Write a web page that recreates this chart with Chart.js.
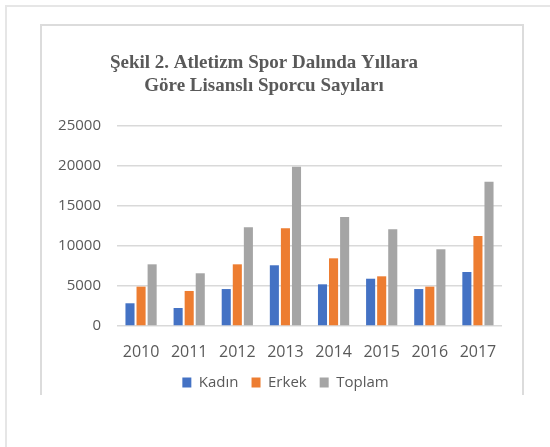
<!DOCTYPE html>
<html>
<head>
<meta charset="utf-8">
<script src="https://cdn.jsdelivr.net/npm/chart.js@4/dist/chart.umd.min.js"></script>
<style>
  html, body { margin: 0; padding: 0; background: #fff; }
  body { width: 550px; height: 447px; position: relative; overflow: hidden; }
  .outer { position: absolute; left: 5px; top: 5px; width: 600px; height: 500px;
           border-top: 2px solid #e6e6e6; border-left: 2px solid #e6e6e6; }
  .inner { position: absolute; left: 40px; top: 24px; width: 480px; height: 369px;
           border: 2px solid #dcdcdc; border-bottom: none; }
  #chart { position: absolute; left: 0; top: 0; }
</style>
</head>
<body>
<div class="outer"></div>
<div class="inner"></div>
<canvas id="chart" width="550" height="447"></canvas>
<script>
  // ---- data -----------------------------------------------------------------

  const TITLE_LINES = ['Şekil 2. Atletizm Spor Dalında Yıllara', 'Göre Lisanslı Sporcu Sayıları'];
  const YEARS   = ['2010', '2011', '2012', '2013', '2014', '2015', '2016', '2017'];
  const KADIN   = [2840, 2250, 4620, 7590, 5210, 5910, 4620, 6750];
  const ERKEK   = [4920, 4380, 7710, 12210, 8460, 6210, 4920, 11250];
  const TOPLAM  = [7710, 6590, 12340, 19920, 13630, 12090, 9590, 18040];
  const Y_TICKS = [0, 5000, 10000, 15000, 20000, 25000];

  const TEXT = '#595959';
  const GRID = '#d9d9d9';

  // two-line serif title, drawn on the canvas a bit left of the plot centre
  const titlePlugin = {
    id: 'twoLineTitle',
    afterDraw(chart) {
      const ctx = chart.ctx;
      ctx.save();
      ctx.fillStyle = TEXT;
      ctx.font = 'bold 19px "Liberation Serif", "Times New Roman", serif';
      ctx.textAlign = 'center';
      ctx.textBaseline = 'alphabetic';
      TITLE_LINES.forEach((line, i) => ctx.fillText(line, 264, 68 + i * 23));
      ctx.restore();
    }
  };

  // legend in the original sits a little right of the canvas-wide centre
  const legendShift = {
    id: 'legendShift',
    afterLayout(chart) {
      if (chart.legend) chart.legend.left += 22;
    }
  };

  const ds = (label, data, color) => ({
    label, data,
    backgroundColor: color,
    borderWidth: 0,
    categoryPercentage: 0.69,
    barPercentage: 0.82
  });

  new Chart(document.getElementById('chart'), {
    type: 'bar',
    data: {
      labels: YEARS,
      datasets: [
        ds('Kadın', KADIN, '#4472C4'),
        ds('Erkek', ERKEK, '#ED7D31'),
        ds('Toplam', TOPLAM, '#A5A5A5')
      ]
    },
    options: {
      responsive: false,
      animation: false,
      layout: { padding: { top: 126, left: 47, right: 48, bottom: 47 } },
      scales: {
        x: {
          afterFit: s => { s.height = 36; },
          grid: { display: false, drawTicks: false },
          border: { display: false },
          ticks: { color: TEXT, padding: 17, font: { family: '"Open Sans"', size: 16 } }
        },
        y: {
          min: 0, max: 25000,
          afterFit: s => { s.width = 70; },
          afterBuildTicks: s => { s.ticks = Y_TICKS.map(v => ({ value: v })); },
          grid: { color: GRID, lineWidth: 1.5, drawTicks: false },
          border: { display: false },
          ticks: {
            color: TEXT, padding: 16, font: { family: '"Open Sans"', size: 15 },
            callback: v => String(v)
          }
        }
      },
      plugins: {
        legend: {
          position: 'bottom',
          labels: {
            color: TEXT, boxWidth: 9, boxHeight: 10, padding: 13,
            font: { family: '"Open Sans"', size: 15 }
          }
        },
        tooltip: { enabled: false }
      }
    },
    plugins: [titlePlugin, legendShift]
  });
</script>
</body>
</html>
